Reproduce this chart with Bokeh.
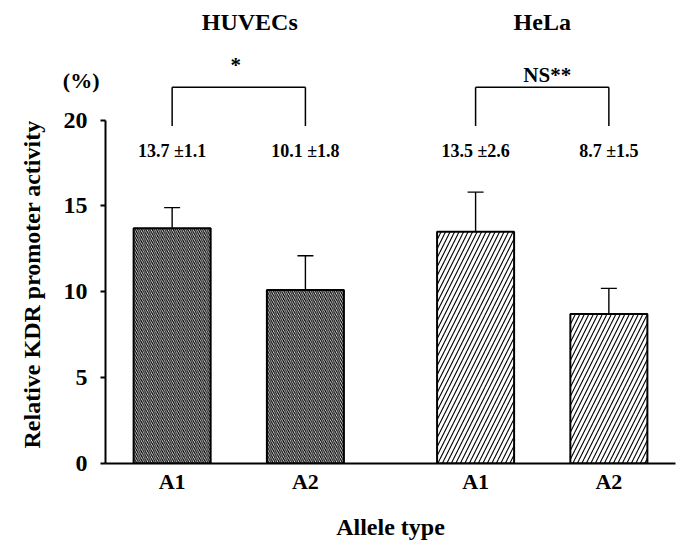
from bokeh.plotting import figure
from bokeh.models import (FactorRange, Range1d, FixedTicker, ColumnDataSource, Whisker, TeeHead,
                          LinearAxis, Title)
from bokeh.core.properties import value
from bokeh.embed import file_html
from bokeh.resources import INLINE

# ---- data ----
cells = ["HUVECs", "HeLa"]
alleles = ["A1", "A2"]
means = [13.7, 10.1, 13.5, 8.7]          # bar heights (%)
errors = [1.2, 2.0, 2.3, 1.5]            # upper error bar lengths as drawn
sd_text = ["1.1", "1.8", "2.6", "1.5"]   # SD values printed above bars
significance = ["*", "NS**"]
y_ticks = [0, 5, 10, 15, 20]

FONT_NAME = "Liberation Serif"
FONT = value(FONT_NAME)

factors = [(c, a) for c in cells for a in alleles]
labels = [f"{m} \u00b1{s}" for m, s in zip(means, sd_text)]

src = ColumnDataSource(data=dict(
    x=factors,
    top=means,
    upper=[m + e for m, e in zip(means, errors)],
    label=labels,
    cell=[c for c, a in factors],
))

p = figure(
    x_range=FactorRange(*factors, group_padding=0.277, range_padding=0),
    y_range=Range1d(0, 26.96),
    width=686, height=542,
    output_backend="svg", toolbar_location=None,
    min_border_left=105, min_border_right=11, min_border_top=0, min_border_bottom=77,
)
p.outline_line_color = None
p.xgrid.grid_line_color = None
p.ygrid.grid_line_color = None
p.background_fill_color = "white"
p.border_fill_color = "white"

# bars: dense "\" hatching for HUVECs, sparse "/" hatching for HeLa
hatch_style = {"HUVECs": dict(hatch_pattern="\\", hatch_scale=4.2, hatch_weight=1.2),
               "HeLa": dict(hatch_pattern="/", hatch_scale=9, hatch_weight=1.1)}
for c in cells:
    idx = [i for i, (cc, a) in enumerate(factors) if cc == c]
    sub = ColumnDataSource(data={k: [src.data[k][i] for i in idx] for k in src.data})
    p.vbar(x="x", top="top", width=0.578, source=sub, fill_color="white",
           line_color="black", line_width=2, hatch_color="black", **hatch_style[c])

# error bars (upper only)
p.add_layout(Whisker(base="x", upper="upper", lower="top", source=src, dimension="height",
                     upper_head=TeeHead(size=16, line_width=1.4, line_color="black"),
                     lower_head=None, line_width=1.4, line_color="black"))

# mean +- SD labels
p.text(x="x", y=18.2, text="label", source=src, text_font=FONT, text_font_style="bold",
       text_font_size="18px", text_align="center", text_baseline="middle", text_color="black")

# cell type titles
p.text(x=cells, y=[25.68, 25.68], text=cells, x_offset=[11, 0], text_font=FONT,
       text_font_style="bold", text_font_size="24px", text_align="center",
       text_baseline="middle", text_color="black")

# significance brackets
bsrc = ColumnDataSource(data=dict(l=[(c, alleles[0]) for c in cells],
                                  r=[(c, alleles[1]) for c in cells]))
b_top, b_bot = 21.91, 19.65
p.segment(x0="l", y0=b_top, x1="r", y1=b_top, source=bsrc, line_color="black", line_width=1.5)
p.segment(x0="l", y0=b_bot, x1="l", y1=b_top, source=bsrc, line_color="black", line_width=1.5)
p.segment(x0="r", y0=b_bot, x1="r", y1=b_top, source=bsrc, line_color="black", line_width=1.5)
p.text(x=cells, y=[23.2, 22.6], text=significance, x_offset=[-3, 5], text_font=FONT,
       text_font_style="bold", text_font_size="21px", text_align="center",
       text_baseline="middle", text_color="black")

# main y axis
ya = p.yaxis[0]
ya.ticker = FixedTicker(ticks=y_ticks)
ya.bounds = (0, 20)
ya.axis_line_width = 2
ya.axis_line_color = "black"
ya.major_tick_out = 5
ya.major_tick_in = 0
ya.major_tick_line_width = 2
ya.minor_tick_line_color = None
ya.major_label_standoff = 13
ya.major_label_text_font = FONT_NAME
ya.major_label_text_font_style = "bold"
ya.major_label_text_font_size = "24px"
ya.major_label_text_color = "black"

# unit label "(%)" above the 20 tick, drawn as the single label of a line-less axis
unit_y = 22.3
ua = LinearAxis(ticker=FixedTicker(ticks=[unit_y]), major_label_overrides={unit_y: "(%)"},
                axis_line_color=None, major_tick_line_color=None, minor_tick_line_color=None,
                major_tick_out=0, major_tick_in=0, major_label_standoff=-39,
                major_label_text_font=FONT_NAME, major_label_text_font_style="bold",
                major_label_text_font_size="22px", major_label_text_color="black")
p.add_layout(ua, "left")

# y axis title, beside the 0-20 span
p.add_layout(Title(text="Relative KDR promoter activity", align="left", offset=15, standoff=25,
                   vertical_align="top",
                   text_font=FONT_NAME, text_font_style="bold", text_font_size="24px",
                   text_color="black"), "left")

# x axis
xa = p.xaxis[0]
xa.axis_line_width = 2
xa.axis_line_color = "black"
xa.major_tick_line_color = None
xa.major_tick_out = 0
xa.major_tick_in = 0
xa.minor_tick_line_color = None
xa.major_label_standoff = 5
xa.major_label_text_font = FONT_NAME
xa.major_label_text_font_style = "bold"
xa.major_label_text_font_size = "22px"
xa.major_label_text_color = "black"
xa.group_text_alpha = 0
xa.group_text_font_size = "10px"
xa.separator_line_alpha = 0
xa.axis_label = "Allele type"
xa.axis_label_text_font = FONT_NAME
xa.axis_label_text_font_style = "bold"
xa.axis_label_text_font_size = "24px"
xa.axis_label_text_color = "black"
xa.axis_label_standoff = 17

open("out.html", "w").write(file_html(p, INLINE))
